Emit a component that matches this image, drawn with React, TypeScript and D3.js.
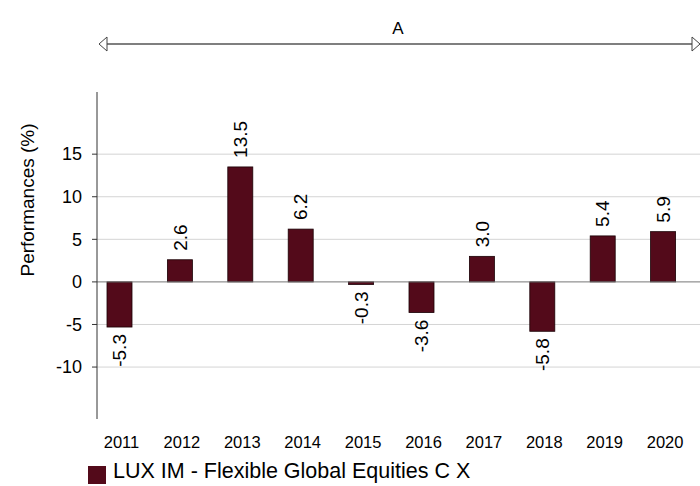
import React from "react";
import * as d3 from "d3";

const years = ["2011", "2012", "2013", "2014", "2015", "2016", "2017", "2018", "2019", "2020"];
const performances = [-5.3, 2.6, 13.5, 6.2, -0.3, -3.6, 3.0, -5.8, 5.4, 5.9];
const yTicks = [-10, -5, 0, 5, 10, 15];
const seriesName = "LUX IM - Flexible Global Equities C X";
const periodLabel = "A";

const W = 700;
const H = 486;
const FONT = "Arial, 'Liberation Sans', sans-serif";
const BAR = "#530a1a";

export default function App() {
  const y = d3.scaleLinear().domain([-16.1, 22.3]).range([419, 92]);
  const x = d3.scaleBand<string>().domain(years).range([89.3, 693.3]).paddingInner(0.586).paddingOuter(0.293);
  const axisX = 97;

  return (
    <svg width={W} height={H} style={{ position: "absolute", left: 0, top: 0, background: "#fff" }} fontFamily={FONT}>
      {/* period arrow */}
      <text x={398} y={34} textAnchor="middle" fontSize={17} fill="#000">{periodLabel}</text>
      <line x1={107} x2={692} y1={44} y2={44} stroke="#000" strokeWidth={1.2} />
      <path d="M107,37 L99,44 L107,51 Z" fill="#fff" stroke="#444" strokeWidth={1} />
      <path d="M692,37 L700,44 L692,51 Z" fill="#fff" stroke="#444" strokeWidth={1} />

      {/* grid */}
      {yTicks.filter(t => t !== 0).map(t => (
        <line key={t} x1={axisX} x2={W} y1={y(t)} y2={y(t)} stroke="#d4d4d4" strokeWidth={1} />
      ))}

      {/* bars */}
      {years.map((yr, i) => {
        const v = performances[i];
        const y0 = y(0);
        const yv = y(v);
        return (
          <rect key={yr} x={x(yr)} width={x.bandwidth()} y={Math.min(y0, yv)} height={Math.abs(yv - y0)}
            fill={BAR} stroke="#1a0005" strokeWidth={0.8} />
        );
      })}

      {/* zero line */}
      <line x1={axisX} x2={W} y1={y(0)} y2={y(0)} stroke="#777" strokeWidth={1} />

      {/* axis */}
      <line x1={axisX} x2={axisX} y1={92} y2={419} stroke="#333" strokeWidth={1} />
      {yTicks.map(t => (
        <g key={t}>
          <line x1={axisX - 5} x2={axisX} y1={y(t)} y2={y(t)} stroke="#333" strokeWidth={1} />
          <text x={axisX - 15} y={y(t)} dy="0.35em" textAnchor="end" fontSize={18} fill="#000">{t}</text>
        </g>
      ))}

      {/* value labels */}
      {years.map((yr, i) => {
        const v = performances[i];
        const cx = (x(yr) as number) + x.bandwidth() / 2;
        const yy = v >= 0 ? y(v) - 9 : y(v) + 7;
        return (
          <text key={yr} transform={`translate(${cx},${yy}) rotate(-90)`} textAnchor={v >= 0 ? "start" : "end"}
            dy="0.35em" fontSize={19} fill="#000">{v.toFixed(1)}</text>
        );
      })}

      {/* x labels */}
      {years.map(yr => (
        <text key={yr} x={(x(yr) as number) + x.bandwidth() / 2 + 2} y={448} textAnchor="middle" fontSize={16.5} fill="#000">{yr}</text>
      ))}

      {/* y title */}
      <text transform={`translate(34,${200}) rotate(-90)`} textAnchor="middle" fontSize={19} fill="#000">Performances (%)</text>

      {/* legend */}
      <rect x={88} y={466} width={18} height={18} fill={BAR} />
      <text x={113} y={478} fontSize={21.5} fill="#000">{seriesName}</text>
    </svg>
  );
}
